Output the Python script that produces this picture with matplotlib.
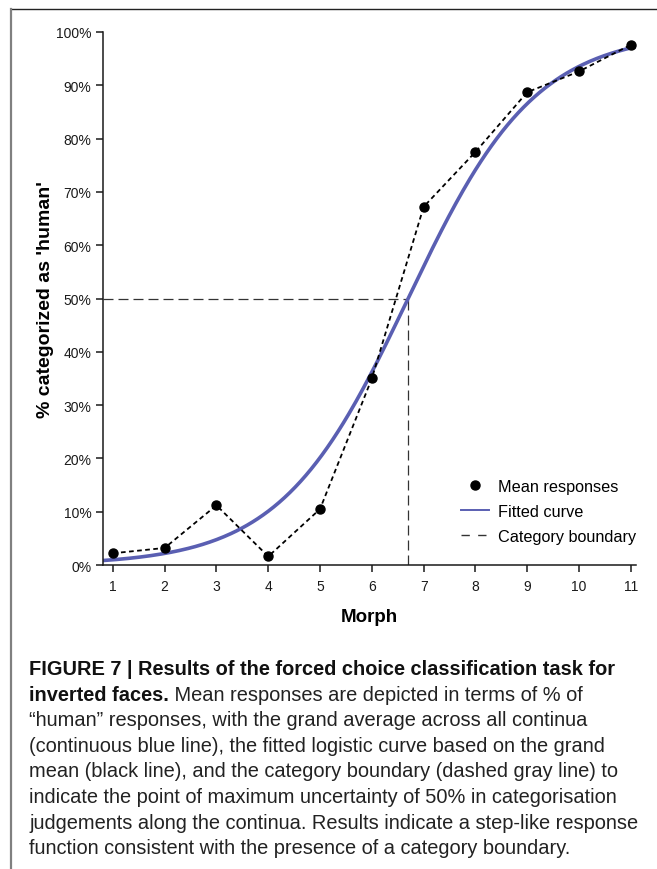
import numpy as np
import matplotlib
matplotlib.use("Agg")
import matplotlib.pyplot as plt
from matplotlib.lines import Line2D

plt.rcParams['font.family'] = ['Liberation Sans', 'DejaVu Sans']

W, H = 657, 870

# data
MORPHS = [1, 2, 3, 4, 5, 6, 7, 8, 9, 10, 11]
MEAN_RESP = [2.2, 3.2, 11.2, 1.6, 10.5, 35.0, 67.2, 77.5, 88.7, 92.6, 97.6]
# logistic fit of the grand mean (midpoint = category boundary)
FIT_MIDPOINT = 6.7
FIT_SLOPE = 0.81
BOUNDARY_X = 6.7
BOUNDARY_Y = 50
Y_TICKS = [0, 10, 20, 30, 40, 50, 60, 70, 80, 90, 100]
Y_TICKLABELS = [f"{v}%" for v in Y_TICKS]

CAPTION_BOLD_1 = "FIGURE 7 | Results of the forced choice classification task for"
CAPTION_BOLD_2 = "inverted faces."
CAPTION_LINES = [
    " Mean responses are depicted in terms of % of",
    "\u201chuman\u201d responses, with the grand average across all continua",
    "(continuous blue line), the fitted logistic curve based on the grand",
    "mean (black line), and the category boundary (dashed gray line) to",
    "indicate the point of maximum uncertainty of 50% in categorisation",
    "judgements along the continua. Results indicate a step-like response",
    "function consistent with the presence of a category boundary.",
]

BLUE = '#5a5fb2'
INK = '#1a1a1a'


def px(x, y):
    return x / W, 1 - y / H


fig = plt.figure(figsize=(W / 100, H / 100), dpi=100)
ax = fig.add_axes([102.5 / W, 1 - 566 / H, (636 - 102.5) / W, (566 - 33) / H])

# fitted logistic curve
xs = np.linspace(0.8, 11.1, 300)
fit = 100 / (1 + np.exp(-FIT_SLOPE * (xs - FIT_MIDPOINT)))
ax.plot(xs, fit, color=BLUE, lw=2.6, solid_capstyle='butt', label='Fitted curve', zorder=2)

# mean responses joined by a dashed line
ax.plot(MORPHS, MEAN_RESP, color='black', lw=1.3, ls=(0, (2.6, 1.9)), zorder=3)
ax.plot(MORPHS, MEAN_RESP, ls='none', marker='o', ms=6.5, color='black',
        label='Mean responses', zorder=4)

# category boundary
ax.plot([0.8, BOUNDARY_X], [BOUNDARY_Y, BOUNDARY_Y], color='#333333', lw=0.9,
        ls=(0, (8, 4)), label='Category boundary', zorder=1)
ax.plot([BOUNDARY_X, BOUNDARY_X], [0, BOUNDARY_Y], color='#333333', lw=0.9,
        ls=(0, (8, 4)), zorder=1)

ax.set_xlim(0.8, 11.1)
ax.set_ylim(0, 100)
ax.set_xticks(MORPHS)
ax.set_yticks(Y_TICKS)
ax.set_yticklabels(Y_TICKLABELS)
for s in ['top', 'right']:
    ax.spines[s].set_visible(False)
for s in ['left', 'bottom']:
    ax.spines[s].set_linewidth(1.1)
    ax.spines[s].set_color(INK)
ax.tick_params(length=5, width=1.1, color=INK, labelsize=10, labelcolor=INK, pad=3)
ax.tick_params(axis='x', pad=5)

ax.set_xlabel('Morph', fontsize=13.5, fontweight='bold', labelpad=11)
ax.set_ylabel("% categorized as 'human'", fontsize=14, fontweight='bold', labelpad=1)

handles, labels = ax.get_legend_handles_labels()
order = [labels.index(k) for k in ['Mean responses', 'Fitted curve', 'Category boundary']]
leg_handles = [handles[i] for i in order]
leg_handles[1] = Line2D([], [], color=BLUE, lw=1.4)
leg_handles[2] = Line2D([], [], color='#333333', lw=1.0, ls=(0, (6, 6)))
ax.legend(leg_handles, [labels[i] for i in order], loc='upper left',
          bbox_to_anchor=px(448, 467), bbox_transform=fig.transFigure,
          frameon=False, fontsize=11.7, handlelength=1.75, handletextpad=0.55,
          labelspacing=0.62, borderpad=0.3)

# page frame
fig.add_artist(Line2D([px(11, 10)[0], 1], [px(11, 10)[1]] * 2, color='#222222', lw=1.0))
fig.add_artist(Line2D([px(11, 10)[0]] * 2, [px(11, 10)[1], 0], color='#808080', lw=1.6))

# caption
renderer = fig.canvas.get_renderer()
probe = fig.text(0, 0, CAPTION_LINES[-1], fontsize=12)
cap_size = 12 * 544 / probe.get_window_extent(renderer).width
probe.remove()

left = 29
baselines = [675 + 25.6 * i for i in range(8)]
fig.text(*px(left, baselines[0]), CAPTION_BOLD_1, fontsize=cap_size,
         fontweight='bold', va='baseline', color='#111111')
t = fig.text(*px(left, baselines[1]), CAPTION_BOLD_2, fontsize=cap_size,
             fontweight='bold', va='baseline', color='#111111')
bw = t.get_window_extent(renderer).width
for i, line in enumerate(CAPTION_LINES):
    x0 = left + bw if i == 0 else left
    fig.text(*px(x0, baselines[i + 1]), line, fontsize=cap_size, va='baseline',
             color='#222222')

fig.savefig('out.png', dpi=100)
